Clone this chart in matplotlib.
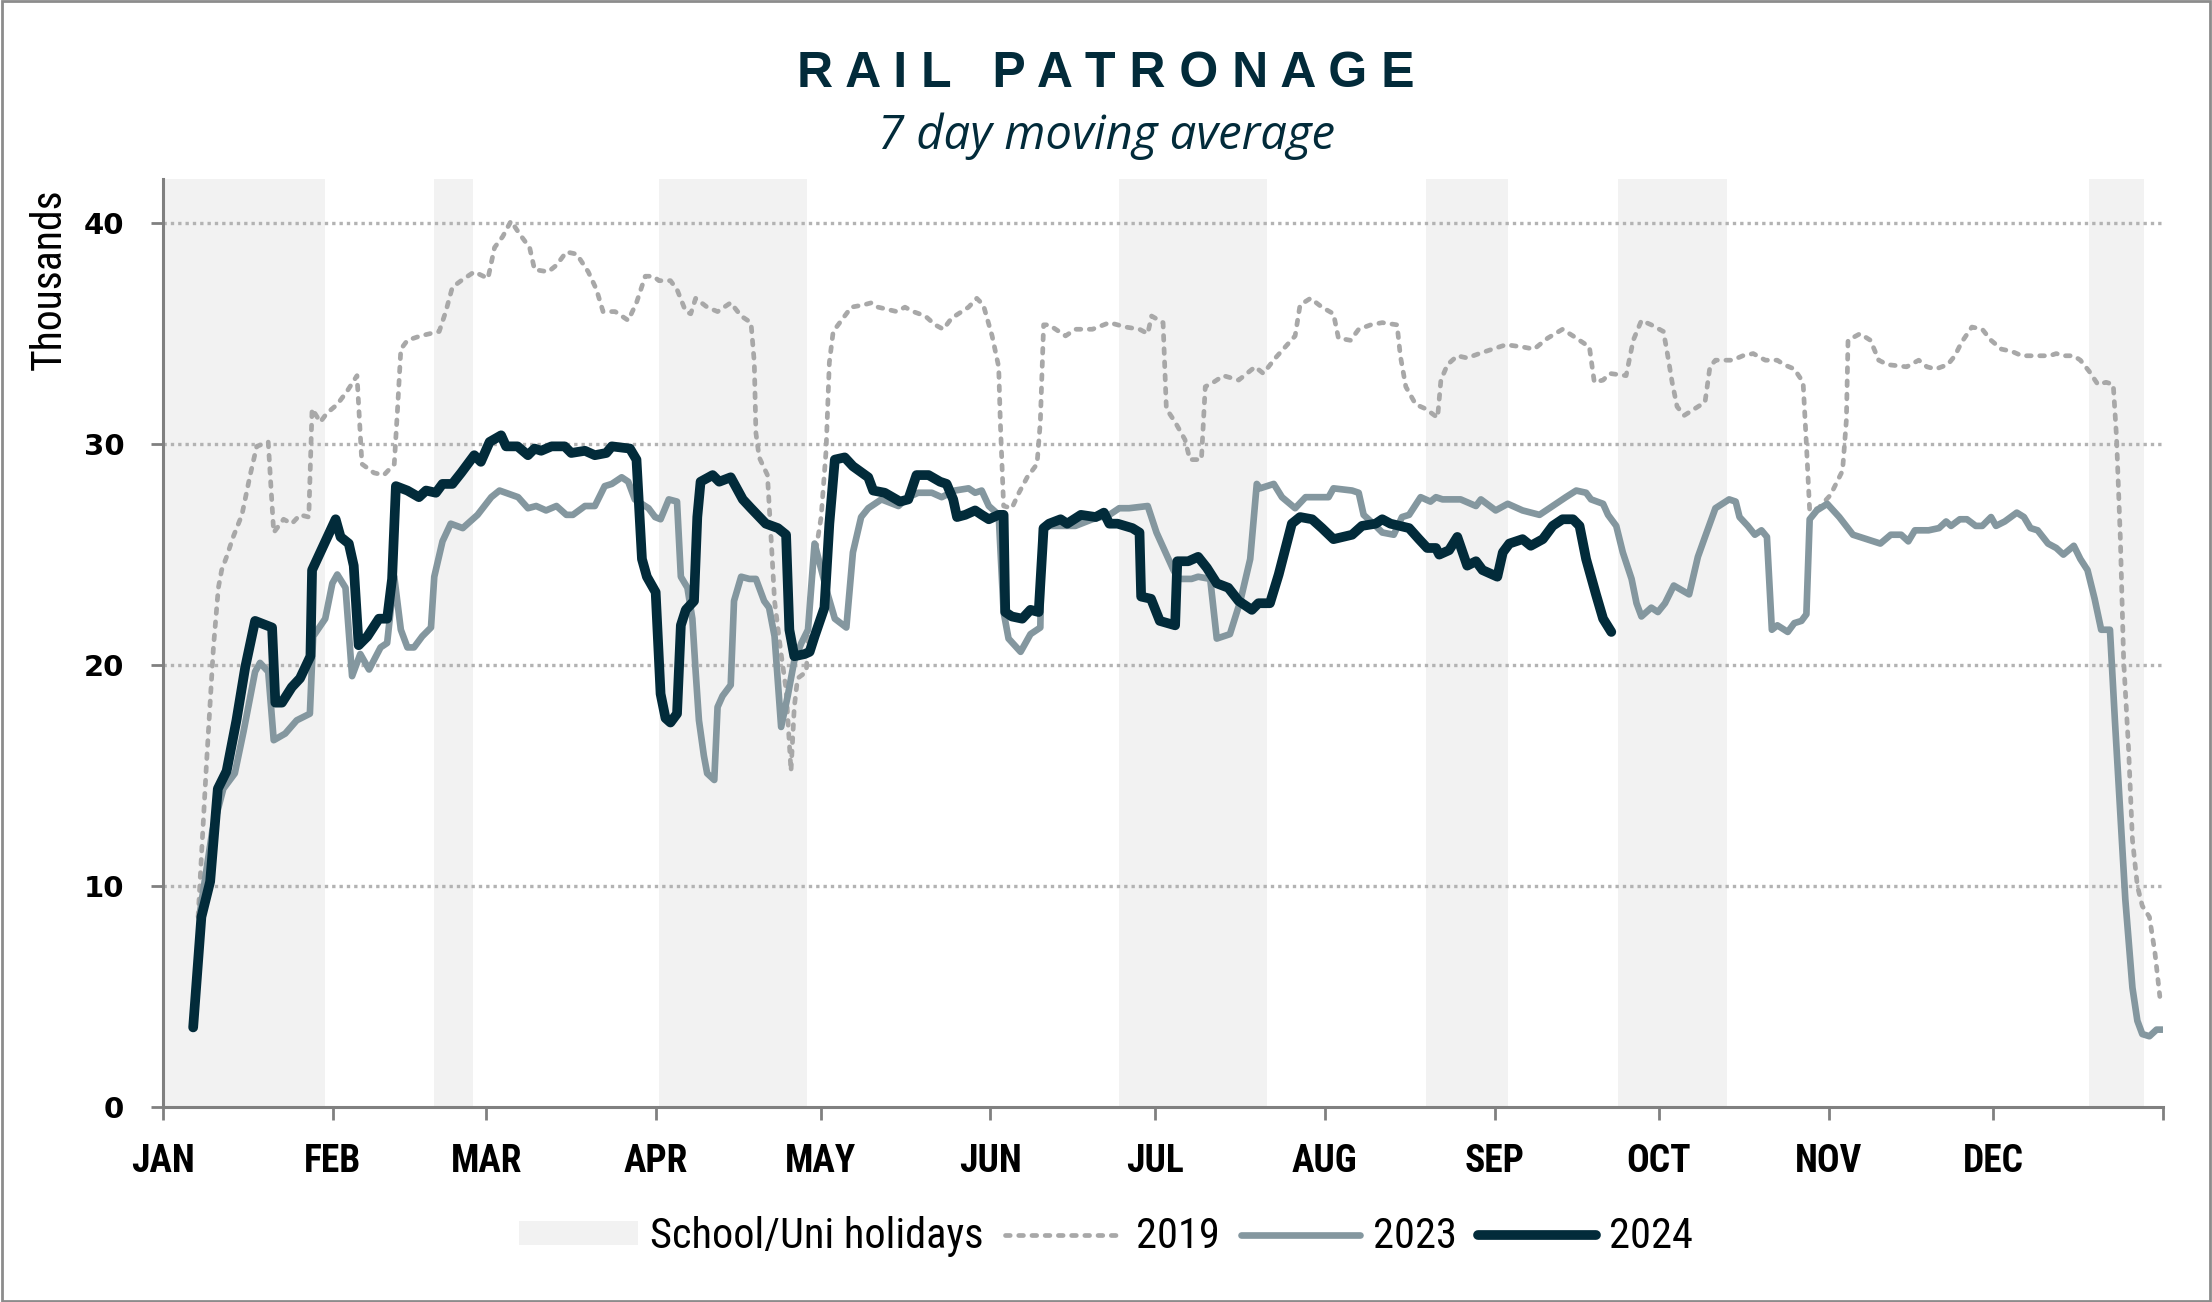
# Rail patronage, 7 day moving average | 2019 / 2023 / 2024 + school holidays
import matplotlib
matplotlib.use("Agg")
import matplotlib.pyplot as plt
from matplotlib import font_manager as fm
from matplotlib.lines import Line2D
from matplotlib.patches import Patch, Rectangle

# ── DATA (thousands, x = day of year) ──────────────────────
month_labels = ["JAN", "FEB", "MAR", "APR", "MAY", "JUN",
                "JUL", "AUG", "SEP", "OCT", "NOV", "DEC"]
month_starts = [0, 31, 59, 90, 120, 151, 181, 212, 243, 273, 304, 334, 365]

holiday_start = [0, 49.5, 90.5, 174.5, 230.5, 265.5, 351.5]
holiday_end = [29.5, 56.5, 117.5, 201.5, 245.5, 285.5, 361.5]

days_2019 = [6.4, 7, 7.9, 8.6, 9.2, 10.1, 10.7, 11.6, 12.8, 14.4, 15.9, 17.1, 19.2, 20.2, 22, 23.5,
             25, 26.6, 27.2, 28.7, 29.9, 31.8, 33.6, 35.4, 36.3, 38.5, 40.3, 42.2, 42.8, 43.4, 44.6,
             47, 50.4, 51.6, 52.8, 54.4, 56.8, 59.3, 60.5, 62, 63.5, 65.1, 66.9, 67.8, 70.3, 71.8,
             73.6, 75.5, 77.6, 79.1, 80.3, 82.5, 84.9, 86.4, 88, 89.5, 90.5, 92.6, 93.8, 95.4, 96.3,
             97.2, 99.3, 101.2, 103.6, 105.5, 107.3, 107.9, 108.2, 108.8, 110.3, 111, 111.6, 112.8,
             113.7, 114.6, 115.2, 115.8, 117.4, 118, 118.9, 120.1, 121, 121.6, 122.3, 123.8, 125.6,
             127.8, 129.3, 130.5, 133.9, 135.4, 136.9, 139.1, 140.9, 142.4, 143.9, 147, 148.5, 149.7,
             151.3, 152.5, 152.8, 153.4, 154.9, 156.2, 157.7, 159.5, 160.1, 160.7, 161.7, 164.7,
             166.5, 169.6, 172.7, 175.7, 178.2, 179.7, 180.4, 182.5, 183.1, 184.7, 186.5, 187.4,
             189.5, 190.2, 191.7, 193.5, 196.3, 199.3, 200.8, 203, 204.8, 206.6, 207.5, 209.4, 211.5,
             213.6, 214.5, 216.7, 218.2, 220.4, 222.5, 225.2, 225.8, 226.8, 228.6, 230.4, 232.6,
             233.2, 234.4, 236.2, 238, 240.2, 242.6, 245.1, 248.1, 250.2, 252.7, 255.4, 257.3, 260.3,
             261.2, 262.8, 264, 267, 268.3, 269.8, 271.6, 273.8, 274.4, 275.4, 276.3, 277.6, 279.5,
             281.4, 282.3, 283.3, 286.4, 288.3, 290.2, 292.4, 294.6, 295.8, 297.7, 299.3, 299.9,
             300.5, 302.1, 304.3, 306.5, 307.2, 307.5, 309.7, 311.6, 313.1, 314.7, 318.2, 320.4,
             321.9, 323.5, 325.7, 327, 328.2, 330.1, 332, 333.6, 335.5, 337.4, 339.2, 340.8, 342.4,
             344.3, 345.5, 346.8, 348.7, 349.9, 351.5, 353.1, 354.6, 355.9, 356.5, 357.2, 357.8,
             358.7, 359.4, 360.3, 361.2, 362.5, 363.5, 364.4]
vals_2019 = [8.6, 11.3, 15.4, 18.3, 20.8, 23.5, 24.3, 24.9, 25.8, 26.8, 28.6, 29.9, 30.1, 26.0, 26.6,
             26.4, 26.8, 26.7, 31.6, 31.0, 31.4, 31.8, 32.4, 33.1, 29.1, 28.7, 28.6, 29.1, 31.6, 34.3,
             34.7, 34.9, 35.1, 36.0, 37.1, 37.4, 37.8, 37.5, 38.9, 39.4, 40.1, 39.5, 38.9, 37.9, 37.8,
             38.1, 38.7, 38.6, 37.8, 37.0, 36.0, 36.0, 35.6, 36.4, 37.6, 37.6, 37.4, 37.4, 37.0, 36.0,
             35.9, 36.6, 36.2, 36.0, 36.4, 35.8, 35.5, 33.7, 30.5, 29.4, 28.6, 25.6, 22.9, 20.5, 18.9,
             15.2, 18.1, 19.4, 19.7, 22.9, 24.8, 26.7, 29.7, 33.7, 35.1, 35.6, 36.2, 36.3, 36.4, 36.2,
             36.0, 36.2, 36.0, 35.8, 35.4, 35.2, 35.7, 36.2, 36.6, 36.3, 34.9, 33.5, 31.0, 27.2, 27.1,
             27.8, 28.5, 29.1, 31.0, 35.4, 35.4, 34.9, 35.2, 35.2, 35.5, 35.3, 35.2, 35.0, 35.8, 35.5,
             31.6, 31.0, 30.2, 29.3, 29.3, 32.6, 32.8, 33.1, 32.9, 33.5, 33.2, 33.9, 34.4, 34.9, 36.3,
             36.6, 36.2, 35.9, 34.8, 34.7, 35.2, 35.4, 35.5, 35.4, 34.0, 32.6, 31.8, 31.6, 31.2, 32.9,
             33.6, 34.0, 33.9, 34.1, 34.3, 34.5, 34.4, 34.3, 34.8, 35.2, 34.9, 34.4, 32.8, 32.9, 33.2,
             33.1, 34.7, 35.6, 35.4, 35.1, 34.3, 32.8, 31.7, 31.3, 31.6, 31.9, 33.5, 33.8, 33.8, 34.0,
             34.1, 33.8, 33.8, 33.6, 33.4, 32.8, 30.0, 27.0, 27.1, 27.7, 28.8, 31.1, 34.7, 35.0, 34.7,
             33.8, 33.6, 33.5, 33.8, 33.5, 33.4, 33.6, 34.0, 34.6, 35.3, 35.2, 34.7, 34.3, 34.2, 34.0,
             34.0, 34.0, 34.0, 34.1, 34.0, 34.0, 33.8, 33.3, 32.7, 32.8, 32.7, 30.3, 25.7, 20.2, 16.2,
             12.1, 10.0, 9.1, 8.6, 7.0, 5.0]

days_2023 = [6.8, 9, 11, 13.1, 14.7, 16.8, 17.7, 19.2, 20.2, 22.3, 24.4, 26.8, 27.4, 29.6, 30.9, 31.8,
             33.3, 34.5, 36, 37.6, 39.7, 40.9, 42.2, 43.4, 44.6, 45.8, 47.3, 48.9, 49.5, 51, 52.5,
             54.7, 57.4, 59.9, 61.4, 64.8, 66.6, 68.1, 69.9, 71.8, 73.6, 74.8, 77, 78.8, 80.6, 81.9,
             83.7, 84.9, 86.1, 88.6, 89.8, 90.8, 92.3, 93.8, 94.5, 95.7, 96.6, 97.2, 97.8, 98.7, 99.3,
             100.6, 101.2, 102.1, 103.6, 104.2, 105.5, 107, 108.2, 109.7, 110.6, 111.6, 112.8, 114,
             115.2, 116.5, 117.7, 118.9, 121.3, 122.6, 124.7, 125.9, 127.4, 128.7, 131.1, 134.2, 136,
             137.8, 140.3, 142.1, 144.5, 147, 148.2, 149.4, 150.7, 152.5, 153.4, 154.3, 156.5, 158.3,
             160.1, 160.4, 161.7, 166.5, 169.6, 172.7, 174.5, 176.3, 179.7, 181.3, 184.4, 185.3,
             187.7, 188.9, 191.1, 192.3, 194.7, 196.6, 198.4, 199.6, 200.2, 202.7, 204.2, 206.6,
             208.5, 210.3, 212.7, 213.6, 217, 218.2, 219.1, 221.3, 222.5, 224.6, 226.1, 227.4, 229.5,
             231.3, 232.3, 233.5, 236.8, 239.6, 240.5, 243.2, 245.4, 248.1, 251.2, 253.6, 256, 257.9,
             259.7, 260.6, 262.8, 263.7, 265.2, 266.4, 268, 268.9, 269.8, 271.6, 272.8, 274.1, 275.7,
             278.5, 280.1, 281.4, 283.3, 285.8, 287, 287.7, 289.2, 290.5, 291.7, 292.7, 293.6, 294.6,
             296.5, 297.7, 299, 299.9, 300.5, 301.8, 303.7, 305.9, 308.4, 310.9, 313.4, 315.3, 317.2,
             318.5, 319.7, 322.2, 324.1, 325.4, 326.3, 327.9, 329.2, 330.8, 332, 333.6, 334.5, 336.1,
             338.3, 339.6, 340.8, 342.1, 344, 345.5, 346.8, 348.7, 349.9, 351.2, 352.5, 353.7, 355.3,
             356.2, 357.2, 358.1, 359.4, 360.3, 361.2, 362.5, 363.8, 364.9]
vals_2023 = [8.9, 12.5, 14.4, 15.1, 17.0, 19.7, 20.1, 19.7, 16.6, 16.9, 17.5, 17.8, 21.3, 22.1, 23.7,
             24.1, 23.5, 19.5, 20.5, 19.8, 20.8, 21.0, 24.0, 21.6, 20.8, 20.8, 21.3, 21.7, 24.0, 25.6,
             26.4, 26.2, 26.8, 27.6, 27.9, 27.6, 27.1, 27.2, 27.0, 27.2, 26.8, 26.8, 27.2, 27.2, 28.1,
             28.2, 28.5, 28.3, 27.5, 27.1, 26.7, 26.6, 27.5, 27.4, 24.0, 23.5, 22.1, 19.7, 17.5, 15.9,
             15.1, 14.8, 18.1, 18.6, 19.1, 22.9, 24.0, 23.9, 23.9, 22.9, 22.6, 21.3, 17.2, 18.6, 20.2,
             21.0, 21.6, 25.5, 23.2, 22.1, 21.7, 25.1, 26.7, 27.1, 27.5, 27.2, 27.6, 27.8, 27.8, 27.6,
             27.9, 28.0, 27.8, 27.9, 27.2, 26.8, 22.4, 21.2, 20.6, 21.4, 21.7, 26.2, 26.3, 26.3, 26.6,
             26.8, 27.1, 27.1, 27.2, 26.0, 24.3, 23.9, 23.9, 24.0, 23.9, 21.2, 21.4, 22.9, 24.8, 28.2,
             28.0, 28.2, 27.6, 27.1, 27.6, 27.6, 27.6, 28.0, 27.9, 27.8, 26.8, 26.3, 26.0, 25.9, 26.7,
             26.8, 27.6, 27.4, 27.6, 27.5, 27.5, 27.2, 27.5, 27.0, 27.3, 27.0, 26.8, 27.2, 27.6, 27.9,
             27.8, 27.5, 27.3, 26.8, 26.3, 25.1, 23.9, 22.8, 22.2, 22.6, 22.4, 22.8, 23.6, 23.2, 24.9,
             25.8, 27.1, 27.5, 27.4, 26.7, 26.3, 25.9, 26.1, 25.8, 21.6, 21.8, 21.5, 21.9, 22.0, 22.3,
             26.6, 27.0, 27.3, 26.7, 25.9, 25.7, 25.5, 25.9, 25.9, 25.6, 26.1, 26.1, 26.2, 26.5, 26.3,
             26.6, 26.6, 26.3, 26.3, 26.7, 26.3, 26.5, 26.9, 26.7, 26.2, 26.1, 25.5, 25.3, 25.0, 25.4,
             24.8, 24.3, 23.0, 21.6, 21.6, 17.5, 13.2, 9.4, 5.4, 3.9, 3.3, 3.2, 3.5, 3.5]

days_2024 = [5.5, 7, 8.6, 10, 11.6, 13.4, 15, 16.8, 19.9, 20.5, 21.7, 23.5, 25, 26.9, 27.2, 28.7,
             31.5, 32.4, 33.9, 34.8, 35.7, 37.3, 39.4, 40.9, 41.8, 42.5, 44.6, 46.7, 48, 49.8, 51,
             52.8, 54.4, 56.8, 58, 59.6, 61.7, 62.6, 64.7, 66.6, 67.8, 69, 70.9, 73.3, 74.5, 77, 78.8,
             80.9, 81.9, 85.2, 86.4, 87.4, 88.3, 89.9, 90.8, 91.7, 92.6, 93.8, 94.5, 95.4, 96.9, 97.5,
             98.1, 100.3, 101.5, 103.6, 105.8, 107.3, 110, 112.2, 113.7, 114.3, 115.2, 117.1, 118,
             118.9, 120.7, 121.6, 122.6, 124.4, 125.9, 128.7, 129.6, 131.7, 134.5, 136, 137.5, 139.7,
             141.8, 143, 144.2, 144.9, 146.4, 148.2, 149.4, 150.7, 152.5, 153.4, 153.7, 154.9, 156.8,
             158.3, 159.8, 160.7, 161.7, 163.8, 165, 167.5, 170.2, 171.7, 172.7, 174.2, 176.9, 178.2,
             178.5, 180.3, 181.9, 184.7, 185.1, 187.1, 188.9, 190.5, 192.3, 194.4, 196.3, 198.7,
             199.9, 202, 203.6, 206, 207.5, 209.7, 211.5, 213.6, 217, 218.8, 221.3, 222.5, 224,
             227.4, 229.2, 230.7, 232.3, 232.9, 234.7, 236.2, 238, 239.6, 240.8, 243.5, 244.5, 245.7,
             248.1, 249.6, 251.8, 253.6, 255.4, 257.3, 258.5, 259.7, 261.5, 262.8, 264.3]
vals_2024 = [3.6, 8.6, 10.2, 14.4, 15.2, 17.5, 19.9, 22.0, 21.7, 18.3, 18.3, 19.0, 19.4, 20.4, 24.3,
             25.1, 26.6, 25.8, 25.5, 24.5, 20.9, 21.3, 22.1, 22.1, 23.9, 28.1, 27.9, 27.6, 27.9, 27.8,
             28.2, 28.2, 28.7, 29.5, 29.2, 30.1, 30.4, 29.9, 29.9, 29.5, 29.8, 29.7, 29.9, 29.9, 29.6,
             29.7, 29.5, 29.6, 29.9, 29.8, 29.3, 24.8, 24.0, 23.3, 18.7, 17.6, 17.4, 17.8, 21.8, 22.5,
             22.9, 26.7, 28.3, 28.6, 28.3, 28.5, 27.5, 27.1, 26.4, 26.2, 25.9, 21.6, 20.4, 20.5, 20.6,
             21.3, 22.6, 26.4, 29.3, 29.4, 29.0, 28.5, 27.9, 27.8, 27.4, 27.5, 28.6, 28.6, 28.3, 28.2,
             27.5, 26.7, 26.8, 27.0, 26.8, 26.6, 26.8, 26.8, 22.4, 22.2, 22.1, 22.5, 22.4, 26.2, 26.4,
             26.6, 26.4, 26.8, 26.7, 26.9, 26.4, 26.4, 26.2, 26.0, 23.1, 23.0, 22.0, 21.8, 24.7, 24.7,
             24.9, 24.4, 23.7, 23.5, 22.9, 22.5, 22.8, 22.8, 24.1, 26.4, 26.7, 26.6, 26.2, 25.7, 25.9,
             26.3, 26.4, 26.6, 26.4, 26.2, 25.7, 25.3, 25.3, 25.0, 25.2, 25.8, 24.5, 24.7, 24.3, 24.0,
             25.1, 25.5, 25.7, 25.4, 25.7, 26.3, 26.6, 26.6, 26.3, 24.8, 23.2, 22.1, 21.5]

# ── STYLE ─────────────────────────────────────────────────
NAVY = "#022B3A"
SLATE = "#84979F"
LIGHT = "#A8A8A8"
BAND = "#F2F2F2"
AXIS = "#808080"
DASH_2019 = (0, (1.0, 1.8))


def pick_font(names):
    # first installed family from the list, None if none of them is there
    for name in names:
        try:
            fm.findfont(fm.FontProperties(family=name), fallback_to_default=False)
            return name
        except ValueError:
            pass
    return None


COND = pick_font(["Liberation Sans Narrow", "Roboto Condensed", "Noto Sans Condensed",
                  "Open Sans Condensed"])
SHRINK = 1.0
if COND is None:
    COND = "Liberation Sans"
    SHRINK = 0.84   # regular width font, scale down to keep the text length

fig = plt.figure(figsize=(22.12, 13.02), dpi=100)
ax = fig.add_axes([0.0737, 0.1498, 0.9042, 0.7127])

# holiday bands
for s, e in zip(holiday_start, holiday_end):
    ax.axvspan(s, e, color=BAND, lw=0, zorder=0)

# grid lines
for y in [10, 20, 30, 40]:
    ax.axhline(y, color="#B3B3B3", lw=2.4, ls=(0, (1, 1.2)), zorder=1)

ax.plot(days_2019, vals_2019, color=LIGHT, lw=3.4, ls=DASH_2019,
        dash_capstyle="round", zorder=2)
ax.plot(days_2023, vals_2023, color=SLATE, lw=4.8, solid_joinstyle="round",
        solid_capstyle="round", zorder=3)
ax.plot(days_2024, vals_2024, color=NAVY, lw=7.0, solid_joinstyle="round",
        solid_capstyle="round", zorder=4)

ax.set_xlim(0, 365)
ax.set_ylim(0, 42)
ax.set_facecolor("none")

ax.set_xticks(month_starts)
ax.set_xticklabels(month_labels + [""], fontfamily=COND, fontweight="bold",
                   fontsize=27 * SHRINK)
ax.set_yticks([0, 10, 20, 30, 40])
ax.set_yticklabels(["0", "10", "20", "30", "40"], fontfamily="DejaVu Sans",
                   fontweight="bold", fontsize=21)
ax.tick_params(axis="x", length=9, width=2, color=AXIS, pad=17)
ax.tick_params(axis="y", length=9, width=2, color=AXIS, pad=19)

for side in ["top", "right"]:
    ax.spines[side].set_visible(False)
for side in ["left", "bottom"]:
    ax.spines[side].set_color(AXIS)
    ax.spines[side].set_linewidth(2.2)

fig.text(49 / 2212, 1 - 279 / 1302, "Thousands", rotation=90, ha="center", va="center",
         fontfamily=COND, fontsize=30 * SHRINK)

# titles
fig.text(0.5, 1 - 87 / 1302, "R A I L   P A T R O N A G E", ha="center", va="baseline",
         fontfamily="Liberation Sans", fontweight="bold", fontsize=36, color=NAVY)
fig.text(0.5, 1 - 149 / 1302, "7 day moving average", ha="center", va="baseline",
         fontfamily="Open Sans", fontstyle="italic", fontsize=34, color=NAVY)

# legend
handles = [Patch(facecolor=BAND, edgecolor="none"),
           Line2D([], [], color=LIGHT, lw=3.4, ls=DASH_2019, dash_capstyle="round"),
           Line2D([], [], color=SLATE, lw=4.8, solid_capstyle="round"),
           Line2D([], [], color=NAVY, lw=7.0, solid_capstyle="round")]
labels = ["School/Uni holidays", "2019", "2023", "2024"]
fig.legend(handles, labels, loc="center", bbox_to_anchor=(0.5, 0.050), ncol=4,
           frameon=False, prop={"family": COND, "size": 30.5 * SHRINK},
           handlelength=2.8 / SHRINK, handleheight=0.5, handletextpad=0.3, columnspacing=0.5)

# figure border
fig.patches.append(Rectangle((0.0008, 0.001), 0.9984, 0.998, transform=fig.transFigure,
                             fill=False, edgecolor="#8C8C8C", lw=2))

fig.savefig("out.png", dpi=100, facecolor="white")
